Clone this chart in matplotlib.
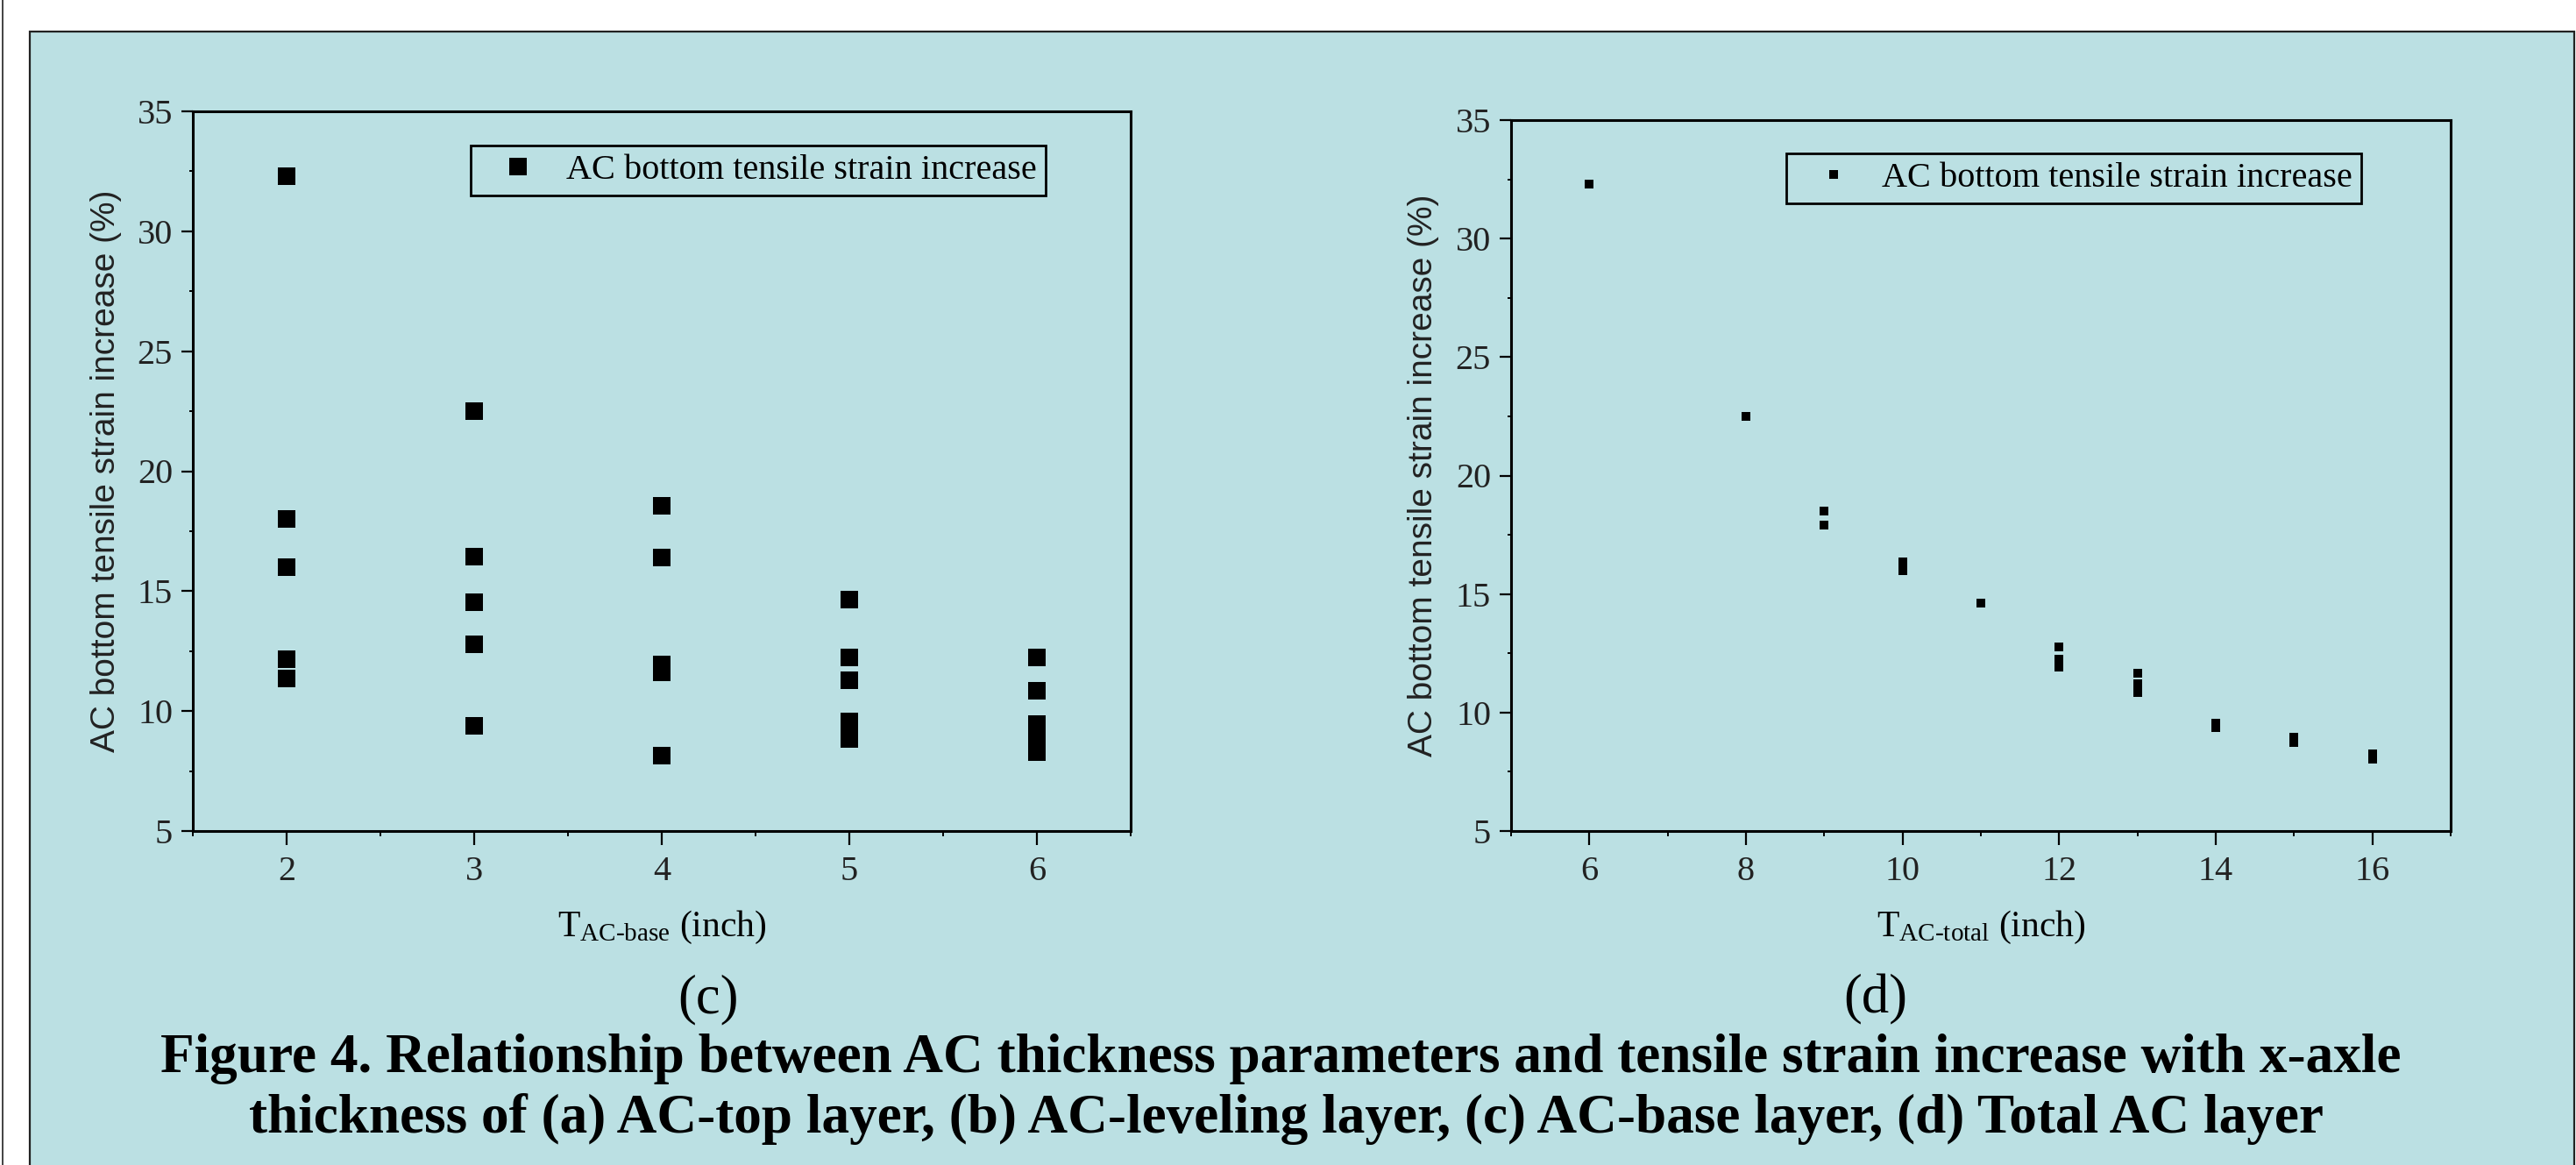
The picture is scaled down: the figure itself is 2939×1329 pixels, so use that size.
import matplotlib
matplotlib.use("Agg")
import matplotlib.pyplot as plt
from matplotlib import font_manager
from matplotlib.patches import Rectangle
from matplotlib.lines import Line2D
from matplotlib.ticker import MultipleLocator

# (c) AC-base thickness vs strain increase
base_x = [2, 2, 2, 2, 2, 3, 3, 3, 3, 3, 4, 4, 4, 4, 4, 4, 5, 5, 5, 5, 5, 6, 6, 6, 6, 6]
base_y = [32.3, 18.0, 16.0, 12.15, 11.35, 22.5, 16.45, 14.55, 12.8, 9.4,
          18.55, 16.4, 11.95, 11.75, 11.6, 8.15, 14.65, 12.25, 11.3, 9.55, 8.85,
          12.25, 10.85, 9.45, 8.9, 8.3]

# (d) total AC thickness vs strain increase
total_x = [6, 8, 9, 9, 10, 10, 11, 12, 12, 12, 13, 13, 13, 14, 14, 15, 15, 16, 16]
total_y = [32.3, 22.5, 18.5, 17.9, 16.35, 16.0, 14.6, 12.75, 12.25, 11.9,
           11.65, 11.2, 10.85, 9.55, 9.35, 8.95, 8.75, 8.25, 8.05]

series_name = "AC bottom tensile strain increase"
ylabel_text = "AC bottom tensile strain increase (%)"
caption1 = "Figure 4. Relationship between AC thickness parameters and tensile strain increase with x-axle"
caption2 = "thickness of (a) AC-top layer, (b) AC-leveling layer, (c) AC-base layer, (d) Total AC layer"

BG = "#BBE0E3"
W, H = 2939, 1329

plt.rcParams["font.family"] = "Liberation Serif"
plt.rcParams["mathtext.fontset"] = "custom"
plt.rcParams["mathtext.rm"] = "Liberation Serif"
plt.rcParams["mathtext.it"] = "Liberation Serif:italic"

names = {f.name for f in font_manager.fontManager.ttflist}
ylab_font = "Liberation Sans Narrow" if "Liberation Sans Narrow" in names else "Liberation Sans"
ylab_size = 31 if ylab_font == "Liberation Sans Narrow" else 28


def px_axes(fig, left, top, right, bottom):
    return fig.add_axes([left / W, (H - bottom) / H, (right - left) / W, (bottom - top) / H])


fig = plt.figure(figsize=(W / 100, H / 100), dpi=100, facecolor="white")

# cyan panel with frame
fig.add_artist(Rectangle((34 / W, -0.05), (2937 - 34) / W, 1.05 - 36 / H,
                         transform=fig.transFigure, facecolor=BG, edgecolor="#222222",
                         lw=1.6, zorder=-10))
fig.add_artist(Line2D([2.5 / W, 2.5 / W], [0, 1], transform=fig.transFigure,
                      color="#222222", lw=1.2, zorder=-5))


def style_axes(ax, xlim, xmaj, xmin):
    ax.set_facecolor(BG)
    ax.set_xlim(*xlim)
    ax.set_ylim(5, 35)
    ax.xaxis.set_major_locator(MultipleLocator(xmaj))
    ax.xaxis.set_minor_locator(MultipleLocator(xmin))
    ax.yaxis.set_major_locator(MultipleLocator(5))
    ax.yaxis.set_minor_locator(MultipleLocator(2.5))
    for s in ax.spines.values():
        s.set_linewidth(2.2)
        s.set_color("black")
    ax.tick_params(axis="x", which="major", direction="out", length=11.5, width=1.6,
                   pad=9, labelsize=29, labelcolor="#222222")
    ax.tick_params(axis="x", which="minor", direction="out", length=4.5, width=1.4)
    ax.tick_params(axis="y", which="major", direction="out", length=9.5, width=1.6,
                   pad=7, labelsize=29, labelcolor="#222222")
    ax.tick_params(axis="y", which="minor", direction="out", length=3, width=1.4)
    ax.tick_params(top=False, right=False)
    ax.set_ylabel(ylabel_text, fontsize=ylab_size, family=ylab_font, color="#222222")
    ax.yaxis.label.set_verticalalignment("center")


def add_legend(ax, x, y):
    leg = ax.legend(loc="upper left", bbox_to_anchor=(x, y), borderaxespad=0,
                    fontsize=29, frameon=True, fancybox=False, borderpad=0.25,
                    handlelength=2.2, handletextpad=0.25, markerscale=1)
    leg.get_frame().set_edgecolor("black")
    leg.get_frame().set_linewidth(2.0)
    leg.get_frame().set_facecolor(BG)
    leg.get_frame().set_alpha(None)


# (c)
ax1 = px_axes(fig, 220, 127, 1290, 948)
ax1.plot(base_x, base_y, linestyle="none", marker="s", markersize=14,
         markeredgewidth=0, color="black", label=series_name)
style_axes(ax1, (1.5, 6.5), 1, 0.5)
ax1.yaxis.set_label_coords((121 - 220) / 1070, 0.5)
ax1.set_xlabel(r"T$_{\mathrm{AC\text{-}base}}$ (inch)", fontsize=30)
ax1.xaxis.label.set_verticalalignment("center")
ax1.xaxis.set_label_coords(0.5, (948 - 1058) / 821)
add_legend(ax1, (537 - 220) / 1070, (948 - 166) / 821)

# (d)
ax2 = px_axes(fig, 1724, 137, 2796, 948)
ax2.plot(total_x, total_y, linestyle="none", marker="s", markersize=7.2,
         markeredgewidth=0, color="black", label=series_name)
style_axes(ax2, (5, 17), 2, 1)
ax2.yaxis.set_label_coords((1624 - 1724) / 1072, 0.5)
ax2.set_xlabel(r"T$_{\mathrm{AC\text{-}total}}$ (inch)", fontsize=30)
ax2.xaxis.label.set_verticalalignment("center")
ax2.xaxis.set_label_coords(0.5, (948 - 1058) / 811)
add_legend(ax2, (2038 - 1724) / 1072, (948 - 175) / 811)

# panel tags and caption
fig.text(808 / W, 1 - 1140 / H, "(c)", fontsize=45, ha="center", va="center")
fig.text(2140 / W, 1 - 1140 / H, "(d)", fontsize=45, ha="center", va="center")
fig.text(1461 / W, 1 - 1223 / H, caption1, fontsize=45.5, fontweight="bold",
         ha="center", va="baseline")
fig.text(1468 / W, 1 - 1292 / H, caption2, fontsize=45.5, fontweight="bold",
         ha="center", va="baseline")

fig.savefig("out.png", dpi=100, facecolor="white")
